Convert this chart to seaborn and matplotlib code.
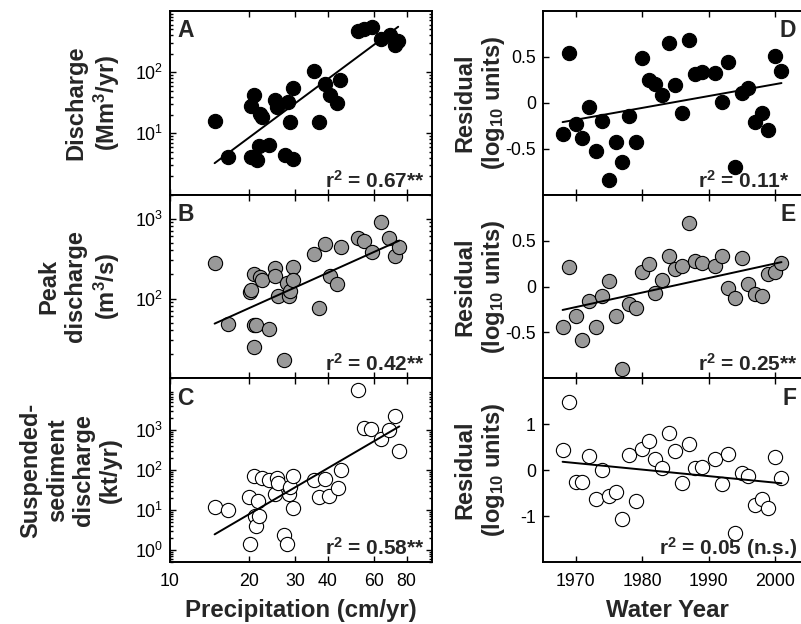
import numpy as np
import matplotlib
matplotlib.use("Agg")
import matplotlib.pyplot as plt
import seaborn as sns
from matplotlib.ticker import FixedLocator, NullLocator, LogLocator, FuncFormatter, NullFormatter

# ---- Panel A: precipitation (cm/yr) vs annual discharge (Mm^3/yr)
precip_a = [14.8, 16.6, 20.4, 20.4, 20.9, 21.5, 21.8, 22.1, 22.4, 23.9, 25.2, 25.6, 27.5, 28.3, 28.8,
            29.4, 29.6, 35.3, 36.9, 39.1, 40.8, 43.3, 44.6, 52.3, 55.1, 58.8, 64.1, 69.1, 72.1, 74.3]
discharge = [15.9, 4.1, 27.7, 4.2, 42, 3.7, 6.2, 21, 18.5, 6.4, 34.8, 27, 4.5, 32.6, 15.3,
             56, 3.8, 104, 15.3, 63.5, 42, 31.4, 74, 475, 500, 553, 343, 404, 277, 326]

# ---- Panel B: precipitation vs peak discharge (m^3/s)
precip_b = [14.8, 16.6, 20.2, 20.4, 20.9, 21.0, 21.0, 21.3, 22.1, 22.4, 23.9, 25.2, 25.2, 25.9, 27.3,
            28.0, 28.4, 28.8, 29.4, 29.6, 35.3, 36.9, 39.1, 40.8, 43.3, 45.0, 52.3, 55.1, 58.8, 64.1,
            68.8, 72.1, 75.0]
peak_discharge = [280, 48, 120, 127, 204, 25, 47, 47, 185, 173, 42, 238, 190, 107, 17,
                  157, 107, 123, 247, 173, 363, 76, 476, 190, 150, 440, 568, 525, 385, 917,
                  568, 340, 440]

# ---- Panel C: precipitation vs suspended-sediment discharge (kt/yr)
precip_c = [14.8, 16.6, 20.0, 20.2, 20.9, 21.1, 21.3, 21.6, 21.9, 22.4, 23.9, 25.2, 25.6, 25.9, 27.3,
            28.0, 28.4, 28.8, 29.4, 29.6, 35.3, 36.9, 39.1, 40.5, 43.6, 45.0, 52.3, 55.1, 58.4, 64.1,
            68.8, 72.4, 75.0]
sediment = [12, 10, 21, 1.4, 72, 7, 4, 17, 7, 65, 56, 25, 63, 49, 2.4,
            1.4, 25, 37, 72, 11, 56, 21, 60, 22, 35, 100, 10000, 1160, 1060, 596,
            1000, 2280, 304]

# Published log-log regressions for panels A-C: log10(y) = slope * log10(P) + intercept
fit_log_slope = [3.18, 1.476, 3.837]
fit_log_intercept = [-3.207, -0.042, -4.099]

# ---- Panels D-F: residuals (log10 units) by water year
water_year = [1968, 1969, 1970, 1971, 1972, 1973, 1974, 1975, 1976, 1977, 1978, 1979, 1980, 1981,
              1982, 1983, 1984, 1985, 1986, 1987, 1988, 1989, 1991, 1992, 1993, 1994, 1995, 1996,
              1997, 1998, 1999, 2000, 2001]
resid_discharge = [-0.34, 0.54, -0.23, -0.38, -0.04, -0.52, -0.20, -0.84, -0.43, -0.64, -0.14, -0.43,
                   0.49, 0.25, 0.20, 0.08, 0.65, 0.19, -0.11, 0.68, 0.31, 0.34, 0.32, 0.01, 0.45,
                   -0.70, 0.11, 0.16, -0.21, -0.11, -0.30, 0.51, 0.35]
resid_peak = [-0.44, 0.21, -0.32, -0.58, -0.16, -0.44, -0.10, 0.06, -0.32, -0.90, -0.19, -0.23,
              0.16, 0.24, -0.07, 0.07, 0.33, 0.19, 0.22, 0.69, 0.28, 0.26, 0.22, 0.33, -0.02,
              -0.13, 0.31, 0.03, -0.08, -0.10, 0.14, 0.16, 0.26]
resid_sediment = [0.45, 1.49, -0.25, -0.25, 0.30, -0.62, 0.01, -0.57, -0.47, -1.07, 0.33, -0.67,
                  0.47, 0.64, 0.25, 0.04, 0.80, 0.42, -0.28, 0.58, 0.04, 0.07, 0.25, -0.30, 0.35,
                  -1.36, -0.06, -0.13, -0.76, -0.62, -0.83, 0.29, -0.16]

panel_letters = ["A", "B", "C", "D", "E", "F"]
r2_labels = [r"r$^2$ = 0.67**", r"r$^2$ = 0.42**", r"r$^2$ = 0.58**",
             r"r$^2$ = 0.11*", r"r$^2$ = 0.25**", r"r$^2$ = 0.05 (n.s.)"]
left_ylabels = ["Discharge\n(Mm$^3$/yr)", "Peak\ndischarge\n(m$^3$/s)",
                "Suspended-\nsediment\ndischarge\n(kt/yr)"]
resid_ylabel = "Residual\n(log$_{10}$ units)"
precip_ticks = [10, 20, 30, 40, 60, 80]
year_ticks = [1970, 1980, 1990, 2000]

sns.set_style("ticks")
plt.rcParams.update({
    "font.family": ["Liberation Sans", "DejaVu Sans"],
    "mathtext.fontset": "custom",
    "mathtext.rm": "Liberation Sans",
    "mathtext.it": "Liberation Sans:italic",
    "mathtext.bf": "Liberation Sans:bold",
    "mathtext.default": "regular",
    "axes.linewidth": 1.4,
    "axes.edgecolor": "black",
    "xtick.color": "black",
    "ytick.color": "black",
})

W, H = 801, 624
fig = plt.figure(figsize=(W / 100, H / 100), dpi=100)

row_top = 11.0
row_h = (562.0 - row_top) / 3
left_x0, left_w = 170.0, 262.0
right_x0, right_w = 542.7, 265.3

LABEL_FS = 17
TICK_FS = 12.8
LETTER_FS = 16.5
R2_FS = 15
LABEL_SPACING = 1.2


def make_axes(x0, w, row):
    top = row_top + row * row_h
    return fig.add_axes([x0 / W, 1 - (top + row_h) / H, w / W, row_h / H])


FILL = {"black": ("black", "black"), "gray": ("#999999", "black"), "white": ("white", "black")}
styles = ["black", "gray", "white"]

log_fmt = FuncFormatter(lambda v, p: r"$10^{%d}$" % int(round(np.log10(v))))


def style_common(ax):
    ax.tick_params(which="both", direction="in", top=True, right=True, labelsize=TICK_FS,
                   width=1.0, colors="black")
    ax.tick_params(which="major", length=4)
    ax.tick_params(which="minor", length=2.2)
    for s in ax.spines.values():
        s.set_visible(True)
        s.set_linewidth(1.4)


# ---- left column: log-log regressions against precipitation
left_sets = [(precip_a, discharge, (1, 1000), [10, 100]),
             (precip_b, peak_discharge, (10, 2000), [100, 1000]),
             (precip_c, sediment, (0.5, 20000), [1, 10, 100, 1000])]

for row, (xv, yv, ylim, yt) in enumerate(left_sets):
    ax = make_axes(left_x0, left_w, row)
    fc, ec = FILL[styles[row]]
    sns.scatterplot(x=xv, y=yv, ax=ax, s=105, color=fc, edgecolor=ec, linewidth=0.8, zorder=3)
    xs = np.array([min(xv), max(xv)])
    ys = 10 ** (fit_log_slope[row] * np.log10(xs) + fit_log_intercept[row])
    sns.lineplot(x=xs, y=ys, ax=ax, color="black", linewidth=1.4, zorder=4)
    ax.set_xscale("log")
    ax.set_yscale("log")
    ax.set_xlim(10, 100)
    ax.set_ylim(*ylim)
    style_common(ax)
    ax.xaxis.set_major_locator(FixedLocator(precip_ticks))
    ax.xaxis.set_minor_locator(NullLocator())
    ax.yaxis.set_major_locator(FixedLocator(yt))
    ax.yaxis.set_minor_locator(LogLocator(base=10, subs=np.arange(2, 10)))
    ax.yaxis.set_major_formatter(log_fmt)
    ax.yaxis.set_minor_formatter(NullFormatter())
    ax.tick_params(axis="y", pad=5)
    ax.tick_params(axis="x", pad=8)
    if row == 2:
        ax.xaxis.set_major_formatter(FuncFormatter(lambda v, p: "%d" % v))
        ax.set_xlabel("Precipitation (cm/yr)", fontsize=LABEL_FS + 0.3, fontweight="bold")
        ax.xaxis.set_label_coords(0.5, -0.2)
    else:
        ax.xaxis.set_major_formatter(NullFormatter())
    ax.set_ylabel(left_ylabels[row], fontsize=LABEL_FS, fontweight="bold",
                  linespacing=LABEL_SPACING)
    ax.yaxis.set_label_coords(-0.183, 0.5)
    ax.text(0.027, 0.955, panel_letters[row], transform=ax.transAxes, ha="left", va="top",
            fontsize=LETTER_FS, fontweight="bold")
    ax.text(0.592, 0.04, r2_labels[row], transform=ax.transAxes, ha="left", va="baseline",
            fontsize=R2_FS, fontweight="bold")

# ---- right column: residuals through time
right_sets = [(resid_discharge, (-1, 1), [-0.5, 0, 0.5]),
              (resid_peak, (-1, 1), [-0.5, 0, 0.5]),
              (resid_sediment, (-2, 2), [-1, 0, 1])]
r2_x = [0.585, 0.585, 0.438]

for row, (yv, ylim, yt) in enumerate(right_sets):
    ax = make_axes(right_x0, right_w, row)
    fc, ec = FILL[styles[row]]
    sns.scatterplot(x=water_year, y=yv, ax=ax, s=105, color=fc, edgecolor=ec, linewidth=0.8,
                    zorder=3)
    k, b = np.polyfit(water_year, yv, 1)
    xs = np.array([min(water_year), max(water_year)], dtype=float)
    sns.lineplot(x=xs, y=k * xs + b, ax=ax, color="black", linewidth=1.4, zorder=4)
    ax.set_xlim(1965, 2005)
    ax.set_ylim(*ylim)
    style_common(ax)
    ax.xaxis.set_major_locator(FixedLocator(year_ticks))
    ax.yaxis.set_major_locator(FixedLocator(yt))
    ax.xaxis.set_minor_locator(NullLocator())
    ax.yaxis.set_minor_locator(NullLocator())
    ax.yaxis.set_major_formatter(FuncFormatter(lambda v, p: "%g" % v))
    ax.tick_params(axis="y", pad=5)
    ax.tick_params(axis="x", pad=8)
    if row == 2:
        ax.xaxis.set_major_formatter(FuncFormatter(lambda v, p: "%d" % v))
        ax.set_xlabel("Water Year", fontsize=LABEL_FS + 0.3, fontweight="bold")
        ax.xaxis.set_label_coords(0.469, -0.2)
    else:
        ax.xaxis.set_major_formatter(NullFormatter())
    ax.set_ylabel(resid_ylabel, fontsize=LABEL_FS, fontweight="bold", linespacing=LABEL_SPACING)
    ax.yaxis.set_label_coords(-0.135, 0.5)
    ax.text(0.955, 0.955, panel_letters[3 + row], transform=ax.transAxes, ha="right", va="top",
            fontsize=LETTER_FS, fontweight="bold")
    ax.text(r2_x[row], 0.04, r2_labels[3 + row], transform=ax.transAxes, ha="left",
            va="baseline", fontsize=R2_FS, fontweight="bold")

fig.savefig("out.png", dpi=100)
